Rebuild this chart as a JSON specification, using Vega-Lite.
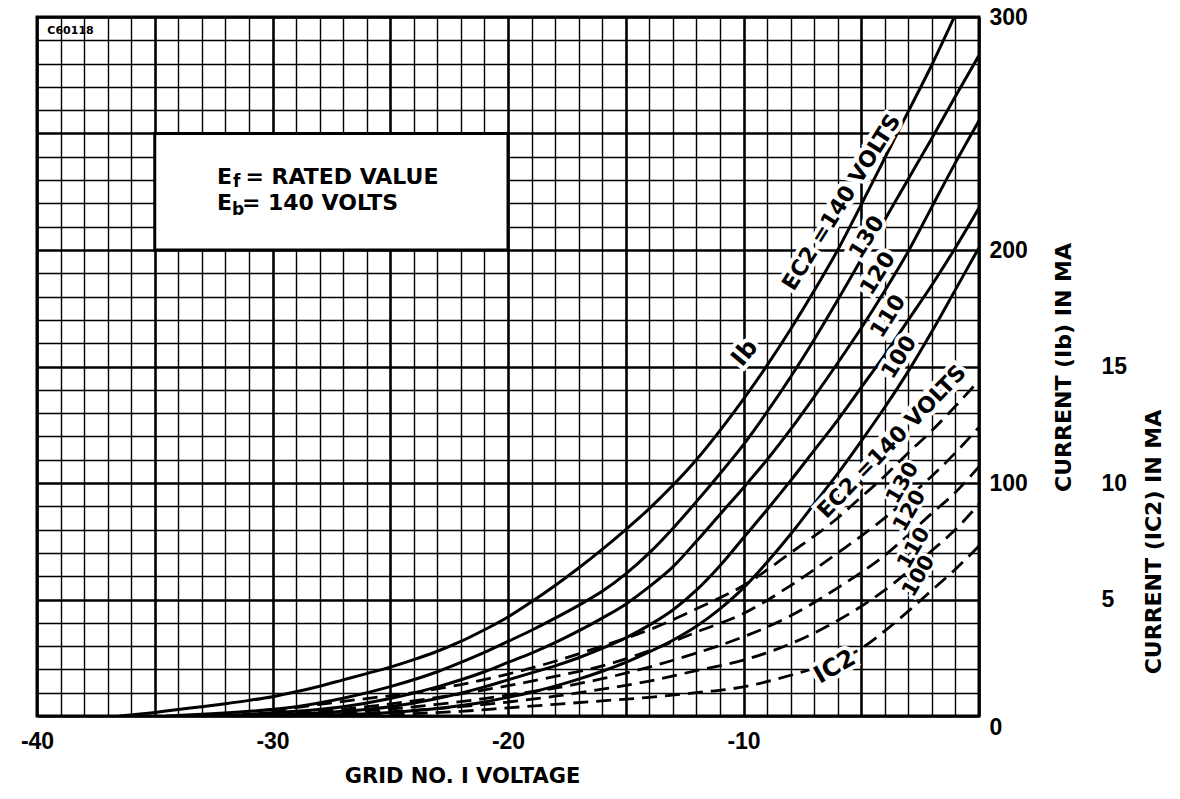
{
  "$schema": "https://vega.github.io/schema/vega-lite/v6.json",
  "width": 942,
  "height": 699,
  "autosize": {"type": "none"},
  "padding": {"left": 37, "top": 17, "right": 201, "bottom": 83},
  "background": "white",
  "config": {"view": {"stroke": "black", "strokeWidth": 3}, "font": "DejaVu Sans"},
  "datasets": {
    "ib": [
      {"v": -36.5, "ib": 0, "ec2": 140}, {"v": -35, "ib": 1.5, "ec2": 140}, {"v": -34, "ib": 2.8, "ec2": 140}, {"v": -33, "ib": 4, "ec2": 140}, {"v": -32, "ib": 5.3, "ec2": 140}, {"v": -31, "ib": 6.7, "ec2": 140}, {"v": -30, "ib": 8.3, "ec2": 140}, {"v": -29, "ib": 10.4, "ec2": 140}, {"v": -28, "ib": 12.8, "ec2": 140}, {"v": -27, "ib": 15.5, "ec2": 140}, {"v": -26, "ib": 18.2, "ec2": 140}, {"v": -25, "ib": 21, "ec2": 140}, {"v": -24, "ib": 24.2, "ec2": 140}, {"v": -23, "ib": 27.8, "ec2": 140}, {"v": -22, "ib": 32, "ec2": 140}, {"v": -21, "ib": 37, "ec2": 140}, {"v": -20, "ib": 42.5, "ec2": 140}, {"v": -19, "ib": 49, "ec2": 140}, {"v": -18, "ib": 56, "ec2": 140}, {"v": -17, "ib": 63.5, "ec2": 140}, {"v": -16, "ib": 71.5, "ec2": 140}, {"v": -15, "ib": 80, "ec2": 140}, {"v": -14, "ib": 89, "ec2": 140}, {"v": -13, "ib": 99, "ec2": 140}, {"v": -12, "ib": 110, "ec2": 140}, {"v": -11, "ib": 122.5, "ec2": 140}, {"v": -10, "ib": 136, "ec2": 140}, {"v": -9, "ib": 150.5, "ec2": 140}, {"v": -8, "ib": 166, "ec2": 140}, {"v": -7, "ib": 182.5, "ec2": 140}, {"v": -6, "ib": 200, "ec2": 140}, {"v": -5, "ib": 219.5, "ec2": 140}, {"v": -4, "ib": 239.5, "ec2": 140}, {"v": -3, "ib": 259.5, "ec2": 140}, {"v": -2, "ib": 279.5, "ec2": 140}, {"v": -1.05, "ib": 300, "ec2": 140},
      {"v": -34.5, "ib": 0, "ec2": 130}, {"v": -33, "ib": 0.7, "ec2": 130}, {"v": -31, "ib": 2, "ec2": 130}, {"v": -29, "ib": 4, "ec2": 130}, {"v": -27, "ib": 7.6, "ec2": 130}, {"v": -25, "ib": 12.6, "ec2": 130}, {"v": -23, "ib": 19, "ec2": 130}, {"v": -22, "ib": 23, "ec2": 130}, {"v": -21, "ib": 27.3, "ec2": 130}, {"v": -20, "ib": 32, "ec2": 130}, {"v": -19, "ib": 36.8, "ec2": 130}, {"v": -18, "ib": 42, "ec2": 130}, {"v": -17, "ib": 47.5, "ec2": 130}, {"v": -16, "ib": 53.5, "ec2": 130}, {"v": -15, "ib": 61, "ec2": 130}, {"v": -14, "ib": 70, "ec2": 130}, {"v": -13, "ib": 80.5, "ec2": 130}, {"v": -12, "ib": 92, "ec2": 130}, {"v": -11, "ib": 104, "ec2": 130}, {"v": -10, "ib": 116.5, "ec2": 130}, {"v": -9, "ib": 130.5, "ec2": 130}, {"v": -8, "ib": 145.5, "ec2": 130}, {"v": -7, "ib": 161.5, "ec2": 130}, {"v": -6, "ib": 178.5, "ec2": 130}, {"v": -5, "ib": 196, "ec2": 130}, {"v": -4, "ib": 213, "ec2": 130}, {"v": -3, "ib": 230.5, "ec2": 130}, {"v": -2, "ib": 248, "ec2": 130}, {"v": -1, "ib": 266, "ec2": 130}, {"v": 0, "ib": 283.5, "ec2": 130},
      {"v": -33, "ib": 0, "ec2": 120}, {"v": -31, "ib": 0.8, "ec2": 120}, {"v": -29, "ib": 2, "ec2": 120}, {"v": -27, "ib": 4, "ec2": 120}, {"v": -25, "ib": 7.5, "ec2": 120}, {"v": -23, "ib": 12.5, "ec2": 120}, {"v": -21, "ib": 19, "ec2": 120}, {"v": -20, "ib": 23, "ec2": 120}, {"v": -19, "ib": 27, "ec2": 120}, {"v": -18, "ib": 31.5, "ec2": 120}, {"v": -17, "ib": 36.5, "ec2": 120}, {"v": -16, "ib": 42, "ec2": 120}, {"v": -15, "ib": 48, "ec2": 120}, {"v": -14, "ib": 55.5, "ec2": 120}, {"v": -13, "ib": 64, "ec2": 120}, {"v": -12, "ib": 75, "ec2": 120}, {"v": -11, "ib": 86.5, "ec2": 120}, {"v": -10, "ib": 98, "ec2": 120}, {"v": -9, "ib": 110, "ec2": 120}, {"v": -8, "ib": 123, "ec2": 120}, {"v": -7, "ib": 137, "ec2": 120}, {"v": -6, "ib": 151.5, "ec2": 120}, {"v": -5, "ib": 166.5, "ec2": 120}, {"v": -4, "ib": 182.5, "ec2": 120}, {"v": -3, "ib": 199.5, "ec2": 120}, {"v": -2, "ib": 218.5, "ec2": 120}, {"v": -1, "ib": 237.5, "ec2": 120}, {"v": 0, "ib": 255.5, "ec2": 120},
      {"v": -31, "ib": 0, "ec2": 110}, {"v": -29, "ib": 0.8, "ec2": 110}, {"v": -27, "ib": 2, "ec2": 110}, {"v": -25, "ib": 4, "ec2": 110}, {"v": -23, "ib": 7.5, "ec2": 110}, {"v": -21, "ib": 12.5, "ec2": 110}, {"v": -20, "ib": 15.5, "ec2": 110}, {"v": -19, "ib": 18.5, "ec2": 110}, {"v": -18, "ib": 21.5, "ec2": 110}, {"v": -17, "ib": 25, "ec2": 110}, {"v": -16, "ib": 29, "ec2": 110}, {"v": -15, "ib": 33.5, "ec2": 110}, {"v": -14, "ib": 39, "ec2": 110}, {"v": -13, "ib": 45.5, "ec2": 110}, {"v": -12, "ib": 54, "ec2": 110}, {"v": -11, "ib": 64.5, "ec2": 110}, {"v": -10, "ib": 76.5, "ec2": 110}, {"v": -9, "ib": 88.5, "ec2": 110}, {"v": -8, "ib": 101, "ec2": 110}, {"v": -7, "ib": 114, "ec2": 110}, {"v": -6, "ib": 127, "ec2": 110}, {"v": -5, "ib": 141, "ec2": 110}, {"v": -4, "ib": 155, "ec2": 110}, {"v": -3, "ib": 170, "ec2": 110}, {"v": -2, "ib": 185, "ec2": 110}, {"v": -1, "ib": 201, "ec2": 110}, {"v": 0, "ib": 218, "ec2": 110},
      {"v": -29, "ib": 0, "ec2": 100}, {"v": -27, "ib": 0.6, "ec2": 100}, {"v": -25, "ib": 1.5, "ec2": 100}, {"v": -23, "ib": 3.2, "ec2": 100}, {"v": -22, "ib": 4.5, "ec2": 100}, {"v": -21, "ib": 6, "ec2": 100}, {"v": -20, "ib": 8, "ec2": 100}, {"v": -19, "ib": 10.2, "ec2": 100}, {"v": -18, "ib": 12.8, "ec2": 100}, {"v": -17, "ib": 15.8, "ec2": 100}, {"v": -16, "ib": 19.2, "ec2": 100}, {"v": -15, "ib": 23, "ec2": 100}, {"v": -14, "ib": 27.5, "ec2": 100}, {"v": -13, "ib": 32.5, "ec2": 100}, {"v": -12, "ib": 38.5, "ec2": 100}, {"v": -11, "ib": 46, "ec2": 100}, {"v": -10, "ib": 55, "ec2": 100}, {"v": -9, "ib": 66, "ec2": 100}, {"v": -8, "ib": 78, "ec2": 100}, {"v": -7, "ib": 91, "ec2": 100}, {"v": -6, "ib": 104, "ec2": 100}, {"v": -5, "ib": 118, "ec2": 100}, {"v": -4, "ib": 132.5, "ec2": 100}, {"v": -3, "ib": 148, "ec2": 100}, {"v": -2, "ib": 165, "ec2": 100}, {"v": -1, "ib": 183, "ec2": 100}, {"v": 0, "ib": 201, "ec2": 100}
    ],
    "ic2": [
      {"v": -31, "ic2": 0, "ec2": 140}, {"v": -30, "ic2": 0.2, "ec2": 140}, {"v": -28, "ic2": 0.5, "ec2": 140}, {"v": -26, "ic2": 0.75, "ec2": 140}, {"v": -24, "ic2": 1.0, "ec2": 140}, {"v": -22, "ic2": 1.35, "ec2": 140}, {"v": -20, "ic2": 1.8, "ec2": 140}, {"v": -18, "ic2": 2.35, "ec2": 140}, {"v": -16, "ic2": 3.0, "ec2": 140}, {"v": -14, "ic2": 3.7, "ec2": 140}, {"v": -12, "ic2": 4.6, "ec2": 140}, {"v": -10, "ic2": 5.6, "ec2": 140}, {"v": -8, "ic2": 7.0, "ec2": 140}, {"v": -6, "ic2": 8.5, "ec2": 140}, {"v": -5, "ic2": 9.4, "ec2": 140}, {"v": -4, "ic2": 10.3, "ec2": 140}, {"v": -3, "ic2": 11.3, "ec2": 140}, {"v": -2, "ic2": 12.25, "ec2": 140}, {"v": -1, "ic2": 13.3, "ec2": 140}, {"v": 0, "ic2": 14.4, "ec2": 140},
      {"v": -30, "ic2": 0, "ec2": 130}, {"v": -28, "ic2": 0.2, "ec2": 130}, {"v": -26, "ic2": 0.4, "ec2": 130}, {"v": -24, "ic2": 0.65, "ec2": 130}, {"v": -22, "ic2": 0.95, "ec2": 130}, {"v": -20, "ic2": 1.3, "ec2": 130}, {"v": -18, "ic2": 1.7, "ec2": 130}, {"v": -16, "ic2": 2.15, "ec2": 130}, {"v": -14, "ic2": 2.8, "ec2": 130}, {"v": -12, "ic2": 3.6, "ec2": 130}, {"v": -10, "ic2": 4.4, "ec2": 130}, {"v": -8, "ic2": 5.6, "ec2": 130}, {"v": -6, "ic2": 7.0, "ec2": 130}, {"v": -4, "ic2": 8.5, "ec2": 130}, {"v": -2, "ic2": 10.3, "ec2": 130}, {"v": -1, "ic2": 11.3, "ec2": 130}, {"v": 0, "ic2": 12.4, "ec2": 130},
      {"v": -29, "ic2": 0, "ec2": 120}, {"v": -27, "ic2": 0.15, "ec2": 120}, {"v": -25, "ic2": 0.3, "ec2": 120}, {"v": -23, "ic2": 0.5, "ec2": 120}, {"v": -21, "ic2": 0.75, "ec2": 120}, {"v": -20, "ic2": 0.9, "ec2": 120}, {"v": -18, "ic2": 1.2, "ec2": 120}, {"v": -16, "ic2": 1.6, "ec2": 120}, {"v": -14, "ic2": 2.1, "ec2": 120}, {"v": -12, "ic2": 2.7, "ec2": 120}, {"v": -10, "ic2": 3.4, "ec2": 120}, {"v": -8, "ic2": 4.3, "ec2": 120}, {"v": -6, "ic2": 5.5, "ec2": 120}, {"v": -4, "ic2": 6.9, "ec2": 120}, {"v": -2, "ic2": 8.7, "ec2": 120}, {"v": -1, "ic2": 9.6, "ec2": 120}, {"v": 0, "ic2": 10.7, "ec2": 120},
      {"v": -28, "ic2": 0, "ec2": 110}, {"v": -26, "ic2": 0.12, "ec2": 110}, {"v": -24, "ic2": 0.25, "ec2": 110}, {"v": -22, "ic2": 0.4, "ec2": 110}, {"v": -20, "ic2": 0.6, "ec2": 110}, {"v": -18, "ic2": 0.85, "ec2": 110}, {"v": -16, "ic2": 1.15, "ec2": 110}, {"v": -14, "ic2": 1.5, "ec2": 110}, {"v": -12, "ic2": 1.95, "ec2": 110}, {"v": -10, "ic2": 2.4, "ec2": 110}, {"v": -8, "ic2": 3.1, "ec2": 110}, {"v": -6, "ic2": 4.1, "ec2": 110}, {"v": -4, "ic2": 5.4, "ec2": 110}, {"v": -2, "ic2": 7.1, "ec2": 110}, {"v": -1, "ic2": 8.0, "ec2": 110}, {"v": 0, "ic2": 9.1, "ec2": 110},
      {"v": -26, "ic2": 0, "ec2": 100}, {"v": -24, "ic2": 0.1, "ec2": 100}, {"v": -22, "ic2": 0.2, "ec2": 100}, {"v": -20, "ic2": 0.35, "ec2": 100}, {"v": -18, "ic2": 0.5, "ec2": 100}, {"v": -16, "ic2": 0.65, "ec2": 100}, {"v": -14, "ic2": 0.8, "ec2": 100}, {"v": -12, "ic2": 1.0, "ec2": 100}, {"v": -10, "ic2": 1.25, "ec2": 100}, {"v": -8, "ic2": 1.75, "ec2": 100}, {"v": -6, "ic2": 2.4, "ec2": 100}, {"v": -5, "ic2": 2.9, "ec2": 100}, {"v": -4, "ic2": 3.65, "ec2": 100}, {"v": -3, "ic2": 4.5, "ec2": 100}, {"v": -2, "ic2": 5.4, "ec2": 100}, {"v": -1, "ic2": 6.3, "ec2": 100}, {"v": 0, "ic2": 7.3, "ec2": 100}
    ],
    "box": [{"v": -35, "v2": -20, "i1": 200, "i2": 250}],
    "boxText": [
      {"t": "E", "v": -32.36, "i": 228.5}, {"t": "= RATED  VALUE", "v": -31.15, "i": 228.5},
      {"t": "E", "v": -32.36, "i": 217.1}, {"t": "= 140  VOLTS", "v": -31.3, "i": 217.1}
    ],
    "boxSub": [{"t": "f", "v": -31.68, "i": 227.2}, {"t": "b", "v": -31.72, "i": 215.2}],
    "code": [{"t": "C60118", "v": -39.56, "i": 294}],
    "ibLabels": [
      {"t": "EC2 =140  VOLTS", "v": -5.84, "i": 220.5},
      {"t": "130", "v": -4.77, "i": 205.5},
      {"t": "120", "v": -4.3, "i": 190},
      {"t": "110", "v": -3.86, "i": 171.6},
      {"t": "100", "v": -3.4, "i": 154}
    ],
    "ibName": [{"t": "Ib", "v": -9.93, "i": 155.7}],
    "icMain": [{"t": "EC2 =140  VOLTS", "v": -3.7, "i": 11.77}],
    "icLabels": [
      {"t": "130", "v": -3.23, "i": 10.0},
      {"t": "120", "v": -2.93, "i": 8.8},
      {"t": "110", "v": -2.75, "i": 7.2},
      {"t": "100", "v": -2.55, "i": 6.0}
    ],
    "icName": [{"t": "IC2", "v": -6.12, "i": 2.1}]
  },
  "encoding": {
    "x": {
      "field": "v", "type": "quantitative",
      "scale": {"domain": [-40, 0], "nice": false, "zero": false},
      "axis": {
        "values": [-40,-39,-38,-37,-36,-35,-34,-33,-32,-31,-30,-29,-28,-27,-26,-25,-24,-23,-22,-21,-20,-19,-18,-17,-16,-15,-14,-13,-12,-11,-10,-9,-8,-7,-6,-5,-4,-3,-2,-1,0],
        "grid": true, "gridColor": "black", "gridOpacity": 1,
        "gridWidth": {"condition": {"test": "datum.value % 5 === 0", "value": 2.6}, "value": 1.4},
        "domain": false, "ticks": false,
        "labelExpr": "datum.value % 10 === 0 && datum.value < 0 ? '-' + (-datum.value) : ''",
        "labelFont": "Liberation Sans", "labelFontSize": 23, "labelFontWeight": "bold", "labelColor": "black",
        "labelPadding": 14, "labelFlush": false, "labelOverlap": false, "labelBaseline": "top",
        "title": "GRID NO. I VOLTAGE",
        "titleFont": "DejaVu Sans", "titleFontSize": 21, "titleFontWeight": "bold", "titleColor": "black",
        "titleX": 425, "titleY": 60, "titleAlign": "center", "titleBaseline": "middle"
      }
    }
  },
  "layer": [
    {
      "data": {"name": "ib"},
      "mark": {"type": "line", "color": "black", "strokeWidth": 3, "interpolate": "monotone", "clip": true},
      "encoding": {
        "y": {
          "field": "ib", "type": "quantitative",
          "scale": {"domain": [0, 300], "nice": false},
          "axis": {
            "orient": "right",
            "values": [0,10,20,30,40,50,60,70,80,90,100,110,120,130,140,150,160,170,180,190,200,210,220,230,240,250,260,270,280,290,300],
            "grid": true, "gridColor": "black", "gridOpacity": 1,
            "gridWidth": {"condition": {"test": "datum.value % 50 === 0", "value": 2.6}, "value": 1.4},
            "domain": false, "ticks": false,
            "labelExpr": "datum.value % 100 === 0 ? datum.label : ''",
            "labelAlign": "left",
            "labelBaseline": {"condition": {"test": "datum.value === 0", "value": "top"}, "value": "middle"},
            "labelPadding": 10, "labelFlush": false, "labelOverlap": false,
            "labelFont": "Liberation Sans", "labelFontSize": 23, "labelFontWeight": "bold", "labelColor": "black",
            "title": "CURRENT (Ib) IN MA",
            "titleFont": "DejaVu Sans", "titleFontSize": 22, "titleFontWeight": "bold", "titleColor": "black",
            "titleAngle": 270, "titleX": 84, "titleY": 350, "titleAlign": "center", "titleBaseline": "middle"
          }
        },
        "detail": {"field": "ec2", "type": "nominal"}
      }
    },
    {
      "data": {"name": "ic2"},
      "mark": {"type": "line", "color": "black", "strokeWidth": 2.8, "strokeDash": [15, 8], "interpolate": "monotone", "clip": true},
      "encoding": {
        "y": {
          "field": "ic2", "type": "quantitative",
          "scale": {"domain": [0, 30], "nice": false},
          "axis": {
            "orient": "right", "offset": 112,
            "values": [5, 10, 15],
            "grid": false, "domain": false, "ticks": false,
            "labelAlign": "left", "labelBaseline": "middle", "labelPadding": 10,
            "labelFont": "Liberation Sans", "labelFontSize": 23, "labelFontWeight": "bold", "labelColor": "black",
            "title": "CURRENT (IC2) IN MA",
            "titleFont": "DejaVu Sans", "titleFontSize": 22, "titleFontWeight": "bold", "titleColor": "black",
            "titleAngle": 270, "titleX": 62, "titleY": 524.5, "titleAlign": "center", "titleBaseline": "middle"
          }
        },
        "detail": {"field": "ec2", "type": "nominal"}
      }
    },
    {
      "data": {"name": "box"},
      "mark": {"type": "rect", "fill": "white", "stroke": "black", "strokeWidth": 3},
      "encoding": {
        "x2": {"field": "v2"},
        "y": {"field": "i1", "type": "quantitative", "axis": null, "scale": {"domain": [0, 300], "nice": false}},
        "y2": {"field": "i2"}
      }
    },
    {
      "data": {"name": "boxText"},
      "mark": {"type": "text", "align": "left", "baseline": "alphabetic", "font": "DejaVu Sans", "fontSize": 22, "fontWeight": "bold", "color": "black"},
      "encoding": {
        "y": {"field": "i", "type": "quantitative", "axis": null, "scale": {"domain": [0, 300], "nice": false}},
        "text": {"field": "t"}
      }
    },
    {
      "data": {"name": "boxSub"},
      "mark": {"type": "text", "align": "left", "baseline": "alphabetic", "font": "DejaVu Sans", "fontSize": 17, "fontWeight": "bold", "color": "black"},
      "encoding": {
        "y": {"field": "i", "type": "quantitative", "axis": null, "scale": {"domain": [0, 300], "nice": false}},
        "text": {"field": "t"}
      }
    },
    {
      "data": {"name": "code"},
      "mark": {"type": "text", "align": "left", "baseline": "middle", "font": "DejaVu Sans", "fontSize": 11, "fontWeight": "bold", "color": "black"},
      "encoding": {
        "y": {"field": "i", "type": "quantitative", "axis": null, "scale": {"domain": [0, 300], "nice": false}},
        "text": {"field": "t"}
      }
    },
    {
      "data": {"name": "ibLabels"},
      "mark": {"type": "text", "angle": 302, "align": "center", "baseline": "middle", "font": "DejaVu Sans", "fontSize": 22, "fontWeight": "bold", "fill": "white", "stroke": "white", "strokeWidth": 8},
      "encoding": {
        "y": {"field": "i", "type": "quantitative", "axis": null, "scale": {"domain": [0, 300], "nice": false}},
        "text": {"field": "t"}
      }
    },
    {
      "data": {"name": "ibLabels"},
      "mark": {"type": "text", "angle": 302, "align": "center", "baseline": "middle", "font": "DejaVu Sans", "fontSize": 22, "fontWeight": "bold", "color": "black"},
      "encoding": {
        "y": {"field": "i", "type": "quantitative", "axis": null, "scale": {"domain": [0, 300], "nice": false}},
        "text": {"field": "t"}
      }
    },
    {
      "data": {"name": "ibName"},
      "mark": {"type": "text", "angle": 310, "align": "center", "baseline": "middle", "font": "DejaVu Sans", "fontSize": 24, "fontWeight": "bold", "fill": "white", "stroke": "white", "strokeWidth": 8},
      "encoding": {
        "y": {"field": "i", "type": "quantitative", "axis": null, "scale": {"domain": [0, 300], "nice": false}},
        "text": {"field": "t"}
      }
    },
    {
      "data": {"name": "ibName"},
      "mark": {"type": "text", "angle": 310, "align": "center", "baseline": "middle", "font": "DejaVu Sans", "fontSize": 24, "fontWeight": "bold", "color": "black"},
      "encoding": {
        "y": {"field": "i", "type": "quantitative", "axis": null, "scale": {"domain": [0, 300], "nice": false}},
        "text": {"field": "t"}
      }
    },
    {
      "data": {"name": "icMain"},
      "mark": {"type": "text", "angle": 314, "align": "center", "baseline": "middle", "font": "DejaVu Sans", "fontSize": 22, "fontWeight": "bold", "fill": "white", "stroke": "white", "strokeWidth": 8},
      "encoding": {
        "y": {"field": "i", "type": "quantitative", "axis": null, "scale": {"domain": [0, 30], "nice": false}},
        "text": {"field": "t"}
      }
    },
    {
      "data": {"name": "icMain"},
      "mark": {"type": "text", "angle": 314, "align": "center", "baseline": "middle", "font": "DejaVu Sans", "fontSize": 22, "fontWeight": "bold", "color": "black"},
      "encoding": {
        "y": {"field": "i", "type": "quantitative", "axis": null, "scale": {"domain": [0, 30], "nice": false}},
        "text": {"field": "t"}
      }
    },
    {
      "data": {"name": "icLabels"},
      "mark": {"type": "text", "angle": 300, "align": "center", "baseline": "middle", "font": "DejaVu Sans", "fontSize": 21, "fontWeight": "bold", "fill": "white", "stroke": "white", "strokeWidth": 6},
      "encoding": {
        "y": {"field": "i", "type": "quantitative", "axis": null, "scale": {"domain": [0, 30], "nice": false}},
        "text": {"field": "t"}
      }
    },
    {
      "data": {"name": "icLabels"},
      "mark": {"type": "text", "angle": 300, "align": "center", "baseline": "middle", "font": "DejaVu Sans", "fontSize": 21, "fontWeight": "bold", "color": "black"},
      "encoding": {
        "y": {"field": "i", "type": "quantitative", "axis": null, "scale": {"domain": [0, 30], "nice": false}},
        "text": {"field": "t"}
      }
    },
    {
      "data": {"name": "icName"},
      "mark": {"type": "text", "angle": 330, "align": "center", "baseline": "middle", "font": "DejaVu Sans", "fontSize": 24, "fontWeight": "bold", "fill": "white", "stroke": "white", "strokeWidth": 8},
      "encoding": {
        "y": {"field": "i", "type": "quantitative", "axis": null, "scale": {"domain": [0, 30], "nice": false}},
        "text": {"field": "t"}
      }
    },
    {
      "data": {"name": "icName"},
      "mark": {"type": "text", "angle": 330, "align": "center", "baseline": "middle", "font": "DejaVu Sans", "fontSize": 24, "fontWeight": "bold", "color": "black"},
      "encoding": {
        "y": {"field": "i", "type": "quantitative", "axis": null, "scale": {"domain": [0, 30], "nice": false}},
        "text": {"field": "t"}
      }
    }
  ],
  "resolve": {"scale": {"y": "independent"}}
}
